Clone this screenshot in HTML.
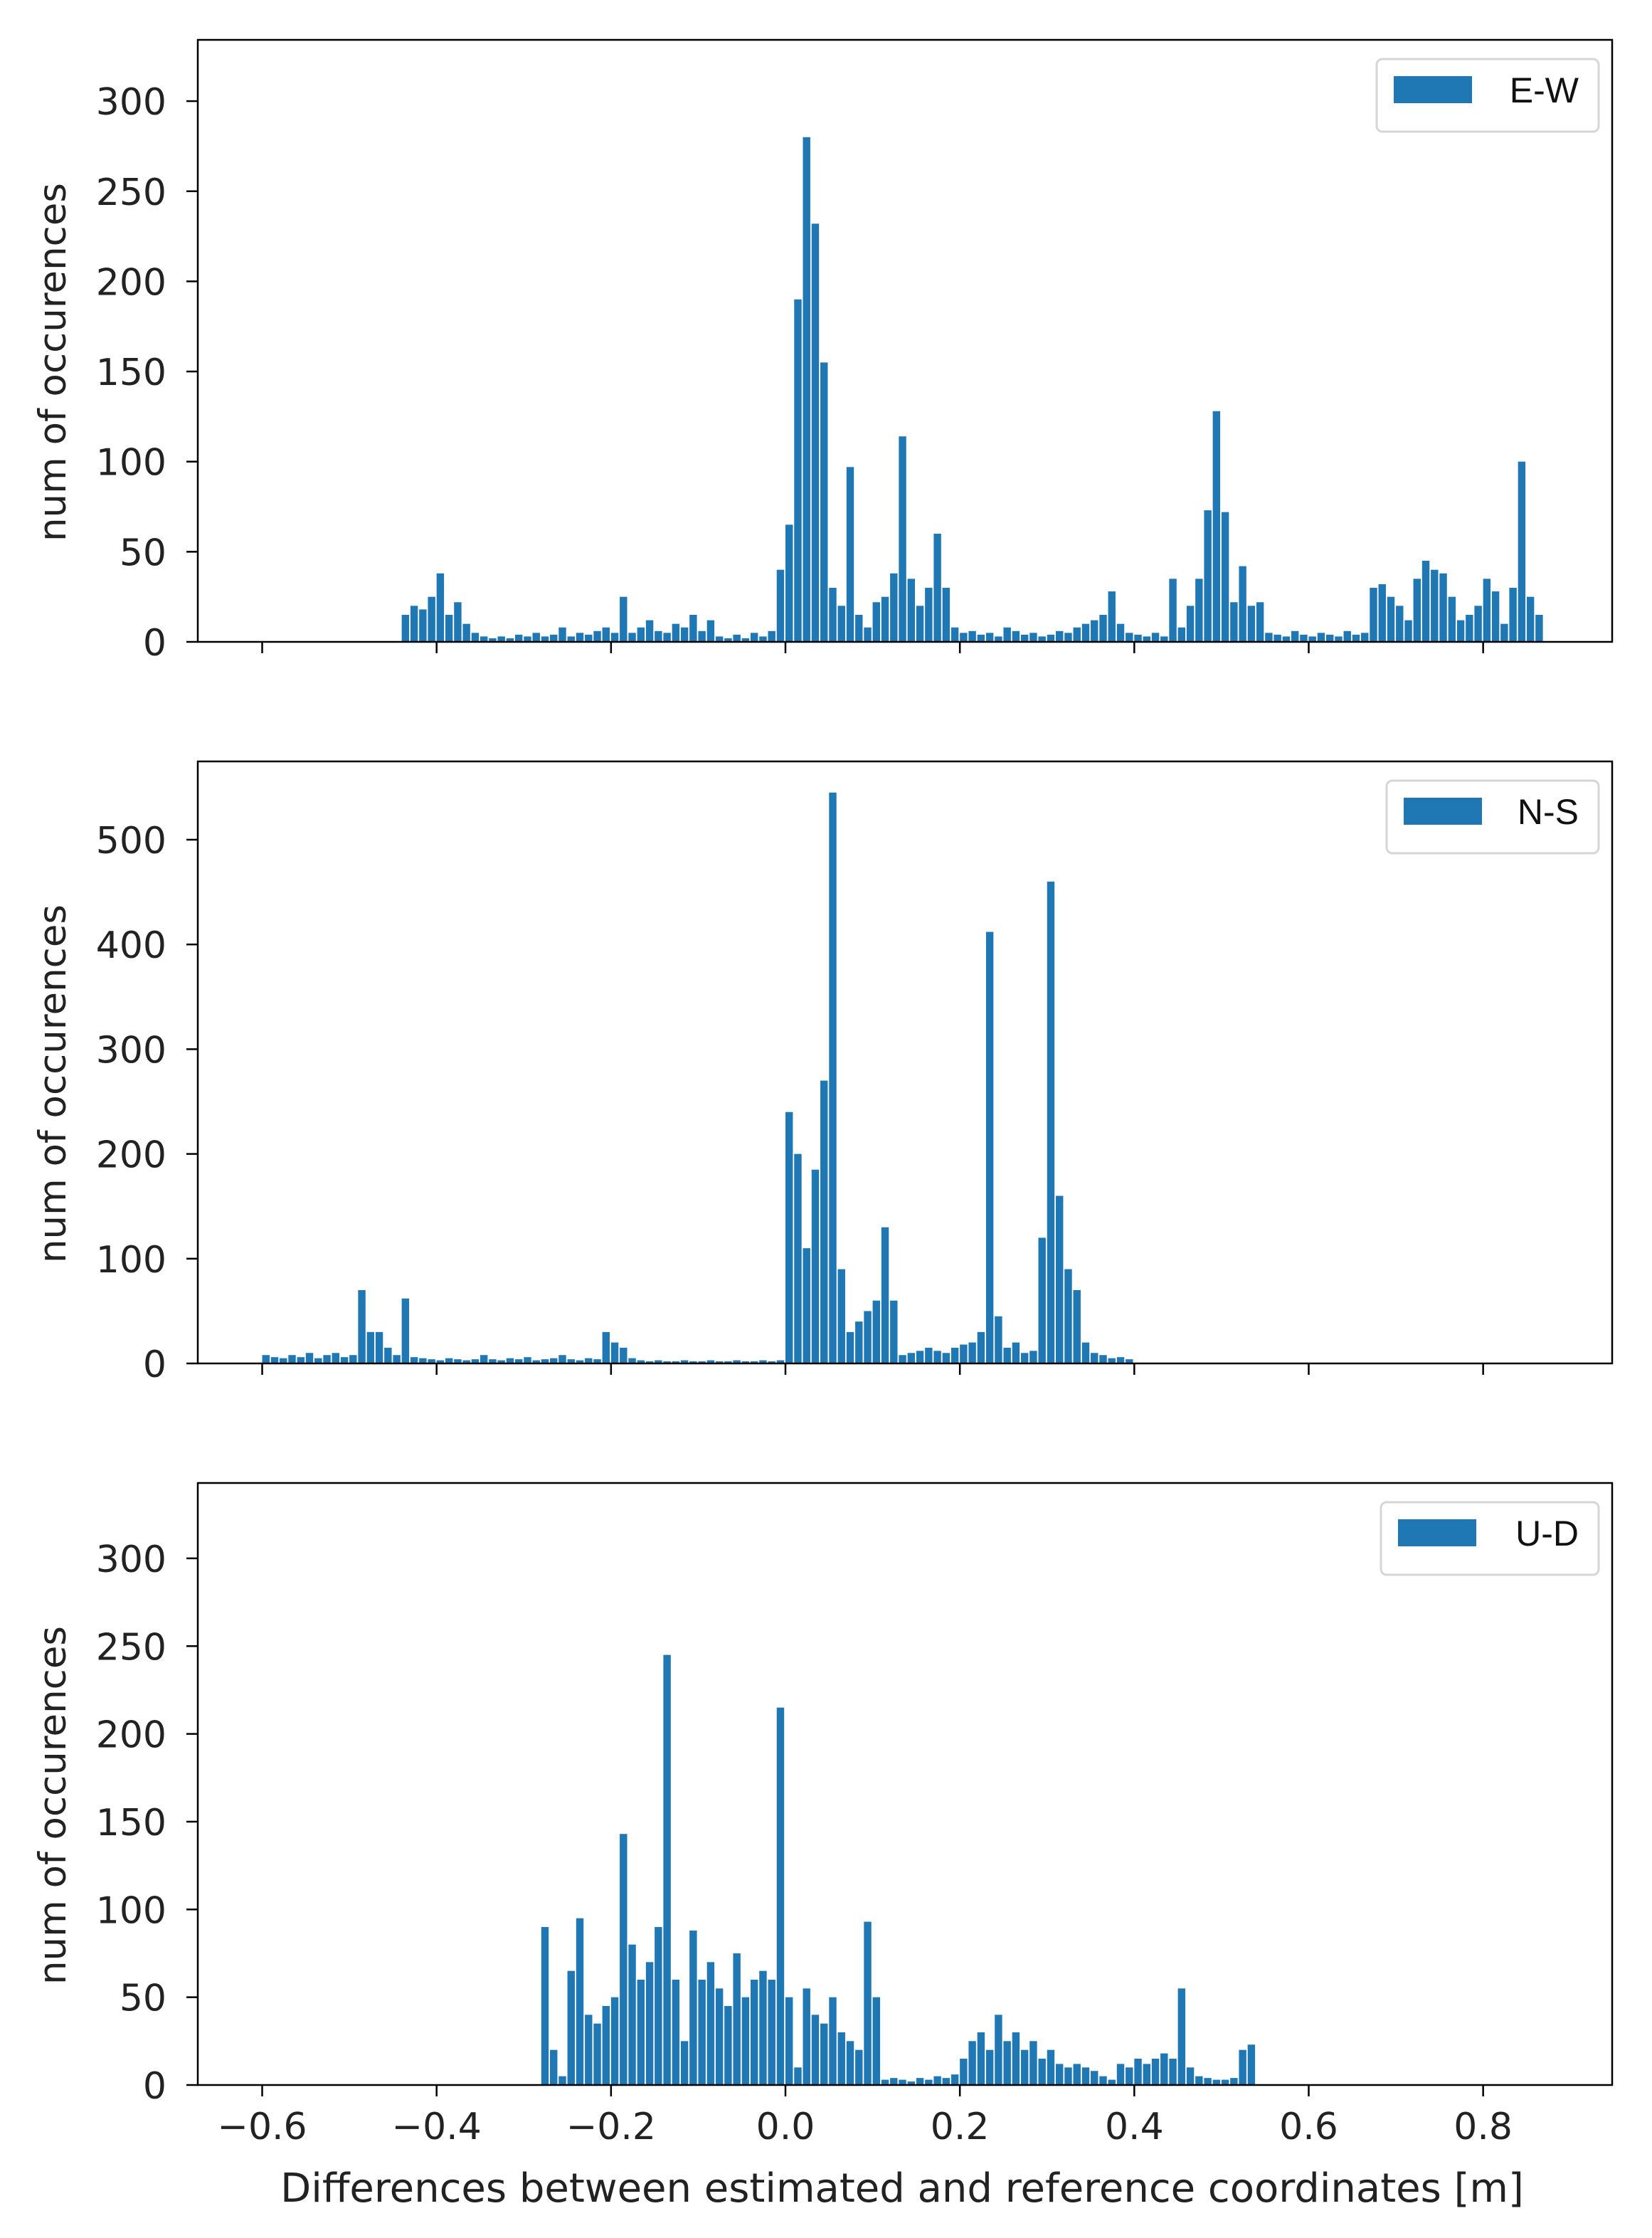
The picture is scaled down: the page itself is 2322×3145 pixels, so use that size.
<!DOCTYPE html>
<html><head><meta charset="utf-8"><style>
html,body{margin:0;padding:0;background:#fff;}
svg{display:block;font-family:"DejaVu Sans","Liberation Sans",sans-serif;}
</style></head><body>
<svg id="chart" width="2322" height="3145" viewBox="0 0 2322 3145" xmlns="http://www.w3.org/2000/svg"></svg>
<script>
// ---- data (bin start, 0.01 m bins) ----
const ewStart = -0.44;
const ewValues = [15,20,18,25,38,15,22,10,5,3,2,3,2,4,3,5,3,4,8,3,5,4,6,8,5,25,5,8,12,6,5,10,8,15,6,12,3,2,4,2,5,3,6,
  40,65,190,280,232,155,30,20,97,15,8,22,25,38,114,35,20,30,60,30,8,
  5,6,4,5,3,8,6,4,5,3,4,6,5,8,10,12,15,28,10,5,4,3,5,3,35,8,20,35,73,128,72,22,42,20,22,
  5,4,3,6,4,3,5,4,3,6,4,5,30,32,25,20,12,35,45,40,38,25,12,15,20,35,28,10,30,100,25,15];
const nsStart = -0.60;
const nsValues = [8,6,5,8,6,10,5,8,10,6,8,70,30,30,15,8,62,6,
  5,4,3,5,4,3,4,8,4,3,5,4,6,3,4,5,8,4,3,5,4,30,20,15,5,
  3,2,3,2,2,3,2,2,3,2,2,3,2,2,3,2,3,
  240,200,110,185,270,545,90,30,40,50,60,130,60,8,10,12,15,12,10,15,18,20,30,412,45,15,20,10,12,120,460,160,90,70,20,10,8,5,6,4];
const udStart = -0.28;
const udValues = [90,20,5,65,95,40,35,45,50,143,80,60,70,90,245,60,25,88,60,70,55,45,75,50,60,65,60,215,
  50,10,55,40,35,50,30,25,20,93,50,3,4,3,2,4,3,5,4,6,15,25,30,20,40,25,30,20,25,15,20,12,10,12,10,8,5,3,12,10,15,12,15,18,15,55,10,5,4,3,3,4,20,23];
const xTicks = [-0.6,-0.4,-0.2,0.0,0.2,0.4,0.6,0.8];
const xTickLabels = ["\u22120.6","\u22120.4","\u22120.2","0.0","0.2","0.4","0.6","0.8"];
const ewTicks = [0,50,100,150,200,250,300];
const nsTicks = [0,100,200,300,400,500];
const udTicks = [0,50,100,150,200,250,300];
const binWidth = 0.01;

const NS = "http://www.w3.org/2000/svg";
const svg = document.getElementById('chart');
const L = 278, R = 2266;
function xScale(v){ return 1104 + v * 1225.8; }
function mk(tag, attrs, parent){
  const e = document.createElementNS(NS, tag);
  for (const k in attrs) e.setAttribute(k, attrs[k]);
  (parent || svg).appendChild(e);
  return e;
}
const panels = [
  {name:'ew', label:'E-W', top:56, start:ewStart, values:ewValues, ticks:ewTicks, pxPer:2.533, showX:false},
  {name:'ns', label:'N-S', top:1070, start:nsStart, values:nsValues, ticks:nsTicks, pxPer:1.472, showX:false},
  {name:'ud', label:'U-D', top:2084, start:udStart, values:udValues, ticks:udTicks, pxPer:2.467, showX:true}
];
const H = 846;
panels.forEach(p => {
  const g = mk('g', {});
  
  
  const bottom = p.top + H;
  const yScale = v => bottom - v * p.pxPer;
  const bars = mk('g', {fill:'#1f77b4'}, g);
  
  
  p.values.forEach((v, i) => {
    const x0 = xScale(p.start + i * binWidth);
    const x1 = xScale(p.start + (i + 0.85) * binWidth);
    const r = mk('rect', {x:x0, y:yScale(v), width:x1 - x0, height:bottom - yScale(v)}, bars);
    
    
  });
  const fr = mk('rect', {x:L, y:p.top, width:R - L, height:H, fill:'none', stroke:'#000', 'stroke-width':2.5}, g);
  
  
  p.ticks.forEach(t => {
    const y = yScale(t);
    mk('line', {x1:L - 16, x2:L, y1:y, y2:y, stroke:'#000', 'stroke-width':2.5}, g);
    const tx = mk('text', {x:L - 44, y:y + 19, 'font-size':52, 'text-anchor':'end', fill:'#222'}, g);
    tx.textContent = String(t);
    
    
  });
  xTicks.forEach((t, i) => {
    const x = xScale(t);
    mk('line', {x1:x, x2:x, y1:bottom, y2:bottom + 16, stroke:'#000', 'stroke-width':2.5}, g);
    if (p.showX) {
      const tx = mk('text', {x:x, y:bottom + 76, 'font-size':52, 'text-anchor':'middle', fill:'#222'}, g);
      tx.textContent = xTickLabels[i];
      
      
    }
  });
  const cy = p.top + H / 2 + 30;
  const yl = mk('text', {x:0, y:0, 'font-size':53, 'text-anchor':'middle', fill:'#222', transform:'translate(92,' + cy + ') rotate(-90)'}, g);
  yl.textContent = 'num of occurences';
  
  
  const lg = mk('g', {}, g);
  
  
  const lw = p.name === 'ew' ? 312 : (p.name === 'ns' ? 298 : 306);
  mk('rect', {x:2247 - lw, y:p.top + 27, width:lw, height:102, rx:8, fill:'#fff', stroke:'#d6d6d6', 'stroke-width':3}, lg);
  mk('rect', {x:2247 - lw + 24, y:p.top + 51, width:110, height:38, fill:'#1f77b4'}, lg);
  const lt = mk('text', {x:2247 - 28, y:p.top + 88, 'font-size':50, fill:'#111', 'text-anchor':'end', 'font-family':'Liberation Sans, sans-serif'}, lg);
  lt.textContent = p.label;
  
  
});
const xl = mk('text', {x:1268, y:3094, 'font-size':56, 'text-anchor':'middle', fill:'#222'});
xl.textContent = 'Differences between estimated and reference coordinates [m]';


</script>
</body></html>
